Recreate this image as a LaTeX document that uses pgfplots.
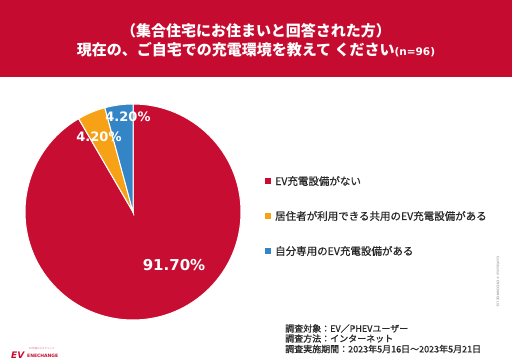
\documentclass[border=0pt]{standalone}
\usepackage{pgfplots}
\pgfplotsset{compat=1.18}
\usepackage{pgfplotstable}
\usepackage{fontspec}
\setmainfont{DejaVu Sans}
\newfontfamily\jp{Noto Sans CJK JP}
\newfontfamily\jpm{Noto Sans CJK JP}[FakeBold=0.6]
\newfontfamily\jpf{Noto Sans CJK JP}[FakeBold=1.0]
\newfontfamily\dv{DejaVu Sans}
\definecolor{hdrred}{RGB}{197,12,48}
\definecolor{evred}{RGB}{199,14,50}
\definecolor{evorange}{RGB}{247,162,22}
\definecolor{evblue}{RGB}{52,133,198}
\definecolor{txt}{RGB}{40,40,40}
% pie data: value
\pgfplotstableread{
value
91.7
4.2
4.2
}\piedata
\pgfplotstablegetelem{0}{value}\of\piedata \let\vA\pgfplotsretval
\pgfplotstablegetelem{1}{value}\of\piedata \let\vB\pgfplotsretval
\pgfplotstablegetelem{2}{value}\of\piedata \let\vC\pgfplotsretval
\pgfmathsetmacro\tot{\vA+\vB+\vC}
\pgfmathsetmacro\aA{90}
\pgfmathsetmacro\aB{\aA-\vA/\tot*360}
\pgfmathsetmacro\aC{\aB-\vB/\tot*360}
\pgfmathsetmacro\aD{\aC-\vC/\tot*360}
\begin{document}
\begin{tikzpicture}
\begin{axis}[x=1pt,y=1pt,xmin=0,xmax=512,ymin=0,ymax=362,
  hide axis, clip=false, scale only axis]
% background and header
\fill[white] (axis cs:0,0) rectangle (axis cs:512,362);
\fill[hdrred] (axis cs:0,285) rectangle (axis cs:512,362);
\node[white,font=\jp\bfseries\fontsize{15}{17}\selectfont] at (axis cs:256,331) {（集合住宅にお住まいと回答された方）};
\node[white,font=\jp\bfseries\fontsize{15}{17}\selectfont,inner sep=0pt] at (axis cs:256,312) {現在の、ご自宅での充電環境を教えて ください{\dv\bfseries\fontsize{10.5}{13}\selectfont(n=96)}};
% pie
\filldraw[fill=evred,draw=white,line width=1pt] (axis cs:133,150) -- ++(\aA:108pt) arc[start angle=\aA,end angle=\aB,radius=108pt] -- cycle;
\filldraw[fill=evorange,draw=white,line width=1pt] (axis cs:133,150) -- ++(\aB:108pt) arc[start angle=\aB,end angle=\aC,radius=108pt] -- cycle;
\filldraw[fill=evblue,draw=white,line width=1pt] (axis cs:133,150) -- ++(\aC:108pt) arc[start angle=\aC,end angle=\aD,radius=108pt] -- cycle;
\node[white,font=\dv\bfseries\fontsize{15}{17}\selectfont] at (axis cs:174,97) {91.70\%};
\node[white,font=\dv\bfseries\fontsize{13}{15}\selectfont] at (axis cs:99,225) {4.20\%};
\node[white,font=\dv\bfseries\fontsize{13}{15}\selectfont] at (axis cs:128,245) {4.20\%};
% legend
\fill[evred] (axis cs:265,178) rectangle (axis cs:271,184);
\node[anchor=west,inner sep=0pt,txt,font=\jpm\fontsize{10.5}{12}\selectfont] at (axis cs:275,181) {EV充電設備がない};
\fill[evorange] (axis cs:265,143) rectangle (axis cs:271,149);
\node[anchor=west,inner sep=0pt,txt,font=\jpm\fontsize{10.5}{12}\selectfont] at (axis cs:275,146) {居住者が利用できる共用のEV充電設備がある};
\fill[evblue] (axis cs:265,108) rectangle (axis cs:271,114);
\node[anchor=west,inner sep=0pt,txt,font=\jpm\fontsize{10.5}{12}\selectfont] at (axis cs:275,111) {自分専用のEV充電設備がある};
% footnote
\node[anchor=west,inner sep=0pt,txt,font=\jpf\fontsize{9}{10}\selectfont] at (axis cs:285,33.5) {調査対象：EV／PHEVユーザー};
\node[anchor=west,inner sep=0pt,txt,font=\jpf\fontsize{9}{10}\selectfont] at (axis cs:285,23.5) {調査方法：インターネット};
\node[anchor=west,inner sep=0pt,txt,font=\jpf\fontsize{9}{10}\selectfont] at (axis cs:285,13) {調査実施期間：2023年5月16日～2023年5月21日};
% confidential
\node[rotate=-90,gray,font=\dv\fontsize{3.2}{4}\selectfont] at (axis cs:498,80) {Confidential © ENECHANGE Ltd.};
% logo
\node[anchor=west,inner sep=0pt,evred,font=\dv\bfseries\itshape\fontsize{9}{10}\selectfont] at (axis cs:11,7) {EV};
\node[anchor=west,inner sep=0pt,evred,font=\dv\bfseries\fontsize{4.5}{5}\selectfont] at (axis cs:27,6.5) {ENECHANGE};
\node[anchor=west,inner sep=0pt,evred!60,font=\jp\fontsize{2.5}{3}\selectfont] at (axis cs:29,13) {EV充電のエネチェンジ};
\end{axis}
\end{tikzpicture}
\end{document}
